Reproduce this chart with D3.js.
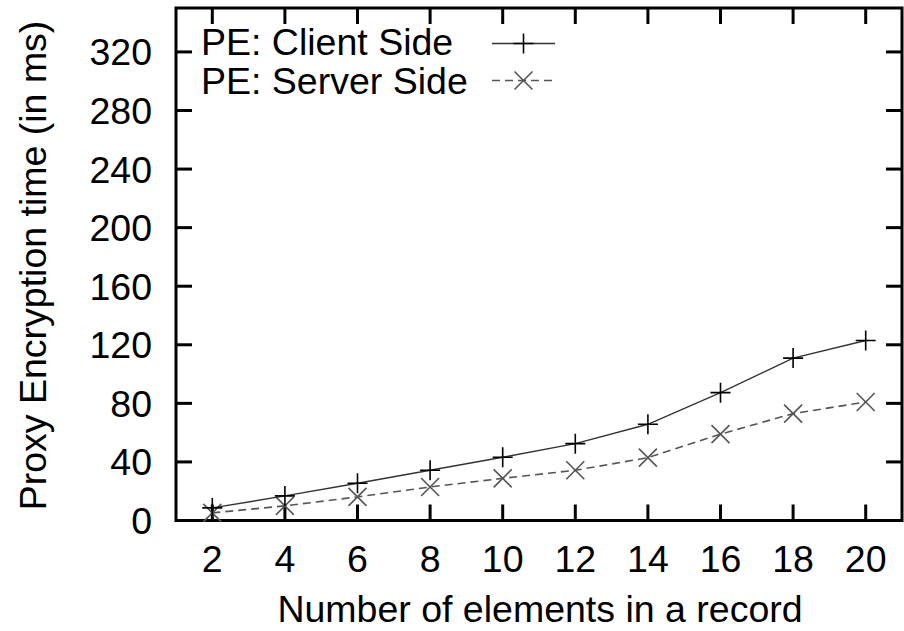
<html>
<head>
<script src="https://cdn.jsdelivr.net/npm/d3@7/dist/d3.min.js" charset="utf-8"></script>
<style>
  body { margin: 0; background: #fff; }
  text { font-family: "Liberation Sans", Arial, sans-serif; fill: #000; }
</style>
</head>
<body>
<svg></svg>
<script type="text/javascript">
// data
var elements = [2, 4, 6, 8, 10, 12, 14, 16, 18, 20];
var clientSide = [8.6, 16.8, 25.4, 34.3, 43.2, 52.5, 65.7, 87.3, 110.9, 122.9];
var serverSide = [5.2, 10.0, 16.1, 22.9, 28.8, 34.3, 42.9, 59.0, 73.0, 80.9];
var yTicks = [0, 40, 80, 120, 160, 200, 240, 280, 320];
var seriesNames = ["PE: Client Side", "PE: Server Side"];

var W = 904, H = 631;
var pL = 176, pR = 902, pT = 8, pB = 520.5;

var svg = d3.select("svg").attr("width", W).attr("height", H);

var x = d3.scaleLinear().domain([1, 21]).range([pL, pR]);
var y = d3.scaleLinear().domain([0, 350]).range([pB, pT]);

var fs = 37.5;
var tickLen = 16;

// ticks (mirrored on all sides, pointing inwards)
var g = svg.append("g");
g.selectAll(".xb").data(elements).enter().append("line")
  .attr("x1", function(d){return x(d);}).attr("x2", function(d){return x(d);})
  .attr("y1", pB).attr("y2", pB - tickLen)
  .attr("stroke", "#000").attr("stroke-width", 3);
g.selectAll(".xt").data(elements).enter().append("line")
  .attr("x1", function(d){return x(d);}).attr("x2", function(d){return x(d);})
  .attr("y1", pT).attr("y2", pT + tickLen)
  .attr("stroke", "#000").attr("stroke-width", 3);
g.selectAll(".yl").data(yTicks).enter().append("line")
  .attr("x1", pL).attr("x2", pL + tickLen)
  .attr("y1", function(d){return y(d);}).attr("y2", function(d){return y(d);})
  .attr("stroke", "#000").attr("stroke-width", 3);
g.selectAll(".yr").data(yTicks).enter().append("line")
  .attr("x1", pR).attr("x2", pR - tickLen)
  .attr("y1", function(d){return y(d);}).attr("y2", function(d){return y(d);})
  .attr("stroke", "#000").attr("stroke-width", 3);

// frame
svg.append("rect")
  .attr("x", pL).attr("y", pT)
  .attr("width", pR - pL).attr("height", pB - pT)
  .attr("fill", "none").attr("stroke", "#000").attr("stroke-width", 3);

// tick labels
svg.selectAll(".xlab").data(elements).enter().append("text")
  .attr("x", function(d){return x(d);}).attr("y", 572)
  .attr("text-anchor", "middle").style("font-size", fs + "px")
  .text(function(d){return d;});
svg.selectAll(".ylab").data(yTicks).enter().append("text")
  .attr("x", pL - 24).attr("y", function(d){return y(d) + 13.5;})
  .attr("text-anchor", "end").style("font-size", fs + "px")
  .text(function(d){return d;});

// axis titles
svg.append("text")
  .attr("x", 540).attr("y", 622)
  .attr("text-anchor", "middle").style("font-size", fs + "px")
  .text("Number of elements in a record");
svg.append("text")
  .attr("transform", "translate(46,265.5) rotate(-90)")
  .attr("text-anchor", "middle").style("font-size", fs + "px")
  .text("Proxy Encryption time (in ms)");

// markers
function plus(sel, cx, cy, r, color) {
  sel.append("path")
    .attr("d", "M" + (cx - r) + "," + cy + "H" + (cx + r) + "M" + cx + "," + (cy - r) + "V" + (cy + r))
    .attr("stroke", color).attr("stroke-width", 1.6).attr("fill", "none");
}
function cross(sel, cx, cy, r, color) {
  sel.append("path")
    .attr("d", "M" + (cx - r) + "," + (cy - r) + "L" + (cx + r) + "," + (cy + r) +
               "M" + (cx - r) + "," + (cy + r) + "L" + (cx + r) + "," + (cy - r))
    .attr("stroke", color).attr("stroke-width", 1.6).attr("fill", "none");
}

var line = d3.line().x(function(d){return x(d[0]);}).y(function(d){return y(d[1]);});
var clientPts = elements.map(function(e, i){return [e, clientSide[i]];});
var serverPts = elements.map(function(e, i){return [e, serverSide[i]];});

var clientColor = "#333", serverColor = "#555";

svg.append("path").datum(serverPts).attr("d", line)
  .attr("fill", "none").attr("stroke", serverColor).attr("stroke-width", 1.6)
  .attr("stroke-dasharray", "8,5");
serverPts.forEach(function(p){ cross(svg, x(p[0]), y(p[1]), 9, serverColor); });

svg.append("path").datum(clientPts).attr("d", line)
  .attr("fill", "none").attr("stroke", clientColor).attr("stroke-width", 1.4);
clientPts.forEach(function(p){ plus(svg, x(p[0]), y(p[1]), 10, "#000"); });

// legend
var legY = [55, 94];
var leg = svg.append("g");
leg.selectAll("text").data(seriesNames).enter().append("text")
  .attr("x", 201).attr("y", function(d, i){return legY[i];})
  .style("font-size", fs + "px")
  .text(function(d){return d;});
leg.append("line").attr("x1", 492).attr("x2", 555).attr("y1", 43.5).attr("y2", 43.5)
  .attr("stroke", clientColor).attr("stroke-width", 1.4);
plus(leg, 523.5, 43.5, 10, "#000");
leg.append("line").attr("x1", 492).attr("x2", 555).attr("y1", 80.5).attr("y2", 80.5)
  .attr("stroke", serverColor).attr("stroke-width", 1.6).attr("stroke-dasharray", "8,5");
cross(leg, 523.5, 80.5, 9, serverColor);
</script>
</body>
</html>
